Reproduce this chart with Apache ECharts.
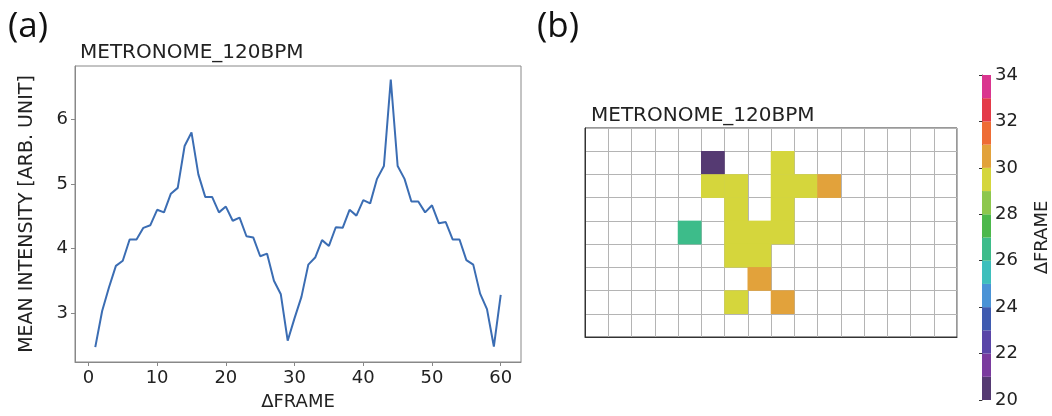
<!DOCTYPE html>
<html>
<head>
<meta charset="utf-8">
<script src="https://cdn.jsdelivr.net/npm/echarts@6/dist/echarts.min.js"></script>
<style>
  html, body { margin: 0; padding: 0; background: #fff; }
  #chart { width: 1052px; height: 416px; }
</style>
</head>
<body>
<div id="chart"></div>
<script>
  // (a) mean intensity per frame offset
  const frames = [1, 2, 3, 4, 5, 6, 7, 8, 9, 10, 11, 12, 13, 14, 15, 16, 17, 18, 19, 20,
    21, 22, 23, 24, 25, 26, 27, 28, 29, 30, 31, 32, 33, 34, 35, 36, 37, 38, 39, 40,
    41, 42, 43, 44, 45, 46, 47, 48, 49, 50, 51, 52, 53, 54, 55, 56, 57, 58, 59, 60]
  const intensity = [2.47, 3.03, 3.40, 3.73, 3.81, 4.14, 4.14, 4.32, 4.36, 4.60,
    4.56, 4.85, 4.94, 5.59, 5.80, 5.15, 4.80, 4.80, 4.56, 4.65,
    4.43, 4.48, 4.19, 4.17, 3.88, 3.92, 3.50, 3.29, 2.57, 2.92,
    3.25, 3.75, 3.86, 4.13, 4.04, 4.33, 4.32, 4.60, 4.51, 4.75,
    4.70, 5.08, 5.28, 6.62, 5.28, 5.08, 4.73, 4.73, 4.56, 4.67,
    4.39, 4.41, 4.14, 4.14, 3.82, 3.75, 3.30, 3.06, 2.48, 3.28]
  const xTicks = [0, 10, 20, 30, 40, 50, 60]
  const yTicks = [3, 4, 5, 6]

  // (b) grid of cells, 16 columns x 9 rows, row 0 at top
  const gridCols = ["0", "1", "2", "3", "4", "5", "6", "7", "8", "9", "10", "11", "12", "13", "14", "15"]
  const gridRows = ["0", "1", "2", "3", "4", "5", "6", "7", "8"]
  const cellCols = [5, 8, 5, 6, 8, 9, 10, 6, 8, 4, 6, 7, 8, 6, 7, 7, 6, 8]
  const cellRows = [1, 1, 2, 2, 2, 2, 2, 3, 3, 4, 4, 4, 4, 5, 5, 6, 7, 7]
  const cellValues = [20.5, 29.5, 29.5, 29.5, 29.5, 29.5, 30.5, 29.5, 29.5, 26.5,
    29.5, 29.5, 29.5, 29.5, 29.5, 30.5, 29.5, 30.5]

  // colour bar bands 20..34
  const bandEdges = [20, 21, 22, 23, 24, 25, 26, 27, 28, 29, 30, 31, 32, 33, 34]
  const bandColors = ["#553a72", "#7a3b9e", "#5a45a8", "#3f5bb0", "#4a93d6", "#3ebfbc", "#3dbc8a",
    "#4cb84b", "#8dc74d", "#d5d63c", "#e2a23b", "#ee6c35", "#e43a48", "#da358f"]

  const font = "DejaVu Sans"
  const lineData = frames.map((f, i) => [f, intensity[i]])
  const heatData = cellCols.map((c, i) => [c, cellRows[i], cellValues[i]])
  const bandData = bandColors.map((c, i) => [bandEdges[i], bandEdges[i + 1]])

  const chart = echarts.init(document.getElementById("chart"))
  const option = {
    backgroundColor: "#fff",
    animation: false,
    title: [
      { text: "METRONOME_120BPM", left: 75, top: 38, textStyle: { fontFamily: font, fontSize: 20, fontWeight: "normal", color: "#222" } },
      { text: "METRONOME_120BPM", left: 586, top: 101, textStyle: { fontFamily: font, fontSize: 20, fontWeight: "normal", color: "#222" } },
    ],
    graphic: [
      { type: "text", left: 8, top: 10, style: { text: "(a)", font: "35px 'Open Sans'", fill: "#111" } },
      { type: "text", left: 537, top: 10, style: { text: "(b)", font: "35px 'Open Sans'", fill: "#111" } },
    ],
    grid: [
      { left: 75, top: 66, width: 446, height: 302, show: true, borderColor: "#888", borderWidth: 1 },
      { left: 585, top: 128, width: 372, height: 209, show: true, borderColor: "#333", borderWidth: 1 },
      { left: 982, top: 75, width: 16, height: 325, show: false },
    ],
    xAxis: [
      {
        gridIndex: 0, type: "value", min: -1.95, max: 62.95,
        name: "ΔFRAME", nameLocation: "middle", nameGap: 31,
        nameTextStyle: { fontFamily: font, fontSize: 18, color: "#222" },
        axisLine: { show: true, onZero: false, lineStyle: { color: "#888" } },
        axisTick: { show: true, length: 4, customValues: xTicks, lineStyle: { color: "#888" } },
        axisLabel: { customValues: xTicks, fontFamily: font, fontSize: 18, color: "#222", margin: 7 },
        splitLine: { show: false },
      },
      {
        gridIndex: 1, type: "category", data: gridCols,
        axisLine: { show: true, lineStyle: { color: "#333" } },
        axisTick: { show: false }, axisLabel: { show: false },
        splitLine: { show: true, lineStyle: { color: "#b4b4b4", width: 1 } },
      },
      { gridIndex: 2, type: "value", min: 0, max: 1, show: false },
    ],
    yAxis: [
      {
        gridIndex: 0, type: "value", min: 2.24, max: 6.83,
        name: "MEAN INTENSITY [ARB. UNIT]", nameLocation: "middle", nameGap: 38, nameRotate: 90,
        nameTextStyle: { fontFamily: font, fontSize: 19, color: "#222" },
        axisLine: { show: true, onZero: false, lineStyle: { color: "#888" } },
        axisTick: { show: true, length: 4, customValues: yTicks, lineStyle: { color: "#888" } },
        axisLabel: { customValues: yTicks, fontFamily: font, fontSize: 18, color: "#222", margin: 7 },
        splitLine: { show: false },
      },
      {
        gridIndex: 1, type: "category", data: gridRows, inverse: true,
        axisLine: { show: true, lineStyle: { color: "#333" } },
        axisTick: { show: false }, axisLabel: { show: false },
        splitLine: { show: true, lineStyle: { color: "#b4b4b4", width: 1 } },
      },
      {
        gridIndex: 2, type: "value", min: 20, max: 34, interval: 2, position: "right",
        name: "ΔFRAME", nameLocation: "middle", nameGap: 42, nameRotate: 90,
        nameTextStyle: { fontFamily: font, fontSize: 18, color: "#222" },
        axisLine: { show: true, lineStyle: { color: "#555" } },
        axisTick: { show: true, inside: true, length: 3, lineStyle: { color: "#333" } },
        axisLabel: { fontFamily: font, fontSize: 18, color: "#222", margin: 4 },
        splitLine: { show: false },
      },
    ],
    visualMap: {
      type: "piecewise", show: false, seriesIndex: 1, dimension: 2,
      pieces: bandColors.map((c, i) => ({ gte: bandEdges[i], lt: bandEdges[i + 1], color: c })),
    },
    series: [
      {
        type: "line", xAxisIndex: 0, yAxisIndex: 0, data: lineData,
        showSymbol: false, lineStyle: { color: "#3b6db3", width: 2 },
      },
      {
        type: "heatmap", xAxisIndex: 1, yAxisIndex: 1, data: heatData,
        itemStyle: { borderWidth: 0 },
      },
      {
        type: "custom", xAxisIndex: 2, yAxisIndex: 2, data: bandData,
        renderItem: function (params, api) {
          const p0 = api.coord([0, api.value(0)])
          const p1 = api.coord([1, api.value(1)])
          return {
            type: "rect",
            shape: { x: p0[0], y: p1[1], width: p1[0] - p0[0], height: p0[1] - p1[1] },
            style: { fill: bandColors[params.dataIndex] },
          }
        },
      },
    ],
  }
  chart.setOption(option)
</script>
</body>
</html>
